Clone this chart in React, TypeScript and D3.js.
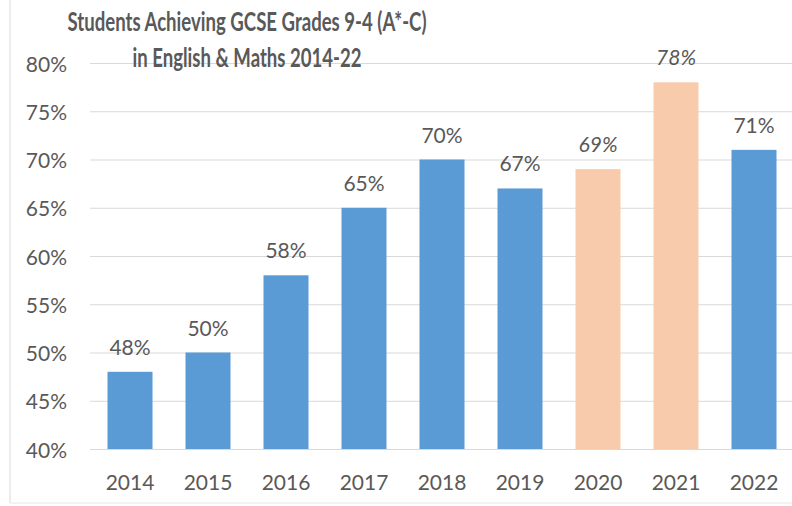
import React from "react";
import * as d3 from "d3";

const years = ["2014", "2015", "2016", "2017", "2018", "2019", "2020", "2021", "2022"];
const values = [48, 50, 58, 65, 70, 67, 69, 78, 71];
const teacherAssessed = [false, false, false, false, false, false, true, true, false];
const yTicks = [40, 45, 50, 55, 60, 65, 70, 75, 80];
const titleLines = ["Students Achieving GCSE Grades 9-4 (A*-C)", "in English & Maths 2014-22"];

const W = 792;
const H = 506;
const BLUE = "#5B9BD5";
const PEACH = "#F8CBAD";
const TEXT = "#595959";
const GRID = "#d9d9d9";
const FONT = "Lato, 'Open Sans', sans-serif";

export default function App() {
  const x = d3.scaleBand<string>().domain(years).range([91, 793]).paddingInner(0.423).paddingOuter(0.2115);
  const y = d3.scaleLinear().domain([40, 80]).range([449, 63]);

  return (
    <svg width={W} height={H} style={{ position: "absolute", left: 0, top: 0, background: "#fff" }}>
      <rect x={0} y={0} width={W} height={H} fill="#fff" />
      <line x1={10} x2={10} y1={0} y2={503} stroke="#d9d9d9" strokeWidth={1} />
      <line x1={10} x2={W} y1={503} y2={503} stroke="#e6e6e6" strokeWidth={1} />
      {yTicks.map((t) => (
        <g key={t}>
          <line x1={90} x2={W} y1={y(t) + 0.5} y2={y(t) + 0.5} stroke={GRID} strokeWidth={1} />
          <text x={67} y={y(t)} textAnchor="end" dominantBaseline="central" fontFamily={FONT} fontSize={21} fill={TEXT}>
            {t}%
          </text>
        </g>
      ))}
      {years.map((yr, i) => {
        const bx = x(yr)!;
        const bw = x.bandwidth();
        const top = y(values[i]);
        return (
          <g key={yr}>
            <rect x={bx} y={top} width={bw} height={y(40) - top} fill={teacherAssessed[i] ? PEACH : BLUE} />
            <text
              x={bx + bw / 2}
              y={top - 17}
              textAnchor="middle"
              fontFamily={FONT}
              fontSize={21}
              fontStyle={teacherAssessed[i] ? "italic" : "normal"}
              fill={TEXT}
            >
              {values[i]}%
            </text>
            <text x={bx + bw / 2} y={490} textAnchor="middle" fontFamily={FONT} fontSize={21} fill={TEXT}>
              {yr}
            </text>
          </g>
        );
      })}
      {titleLines.map((line, i) => (
        <text
          key={i}
          x={247}
          y={31 + i * 36}
          textAnchor="middle"
          fontFamily="'Liberation Sans Narrow', Lato, sans-serif"
          fontWeight="bold"
          fontSize={27}
          fill={TEXT}
          textLength={i === 0 ? 359 : 229}
          lengthAdjust="spacingAndGlyphs"
        >
          {line}
        </text>
      ))}
    </svg>
  );
}
